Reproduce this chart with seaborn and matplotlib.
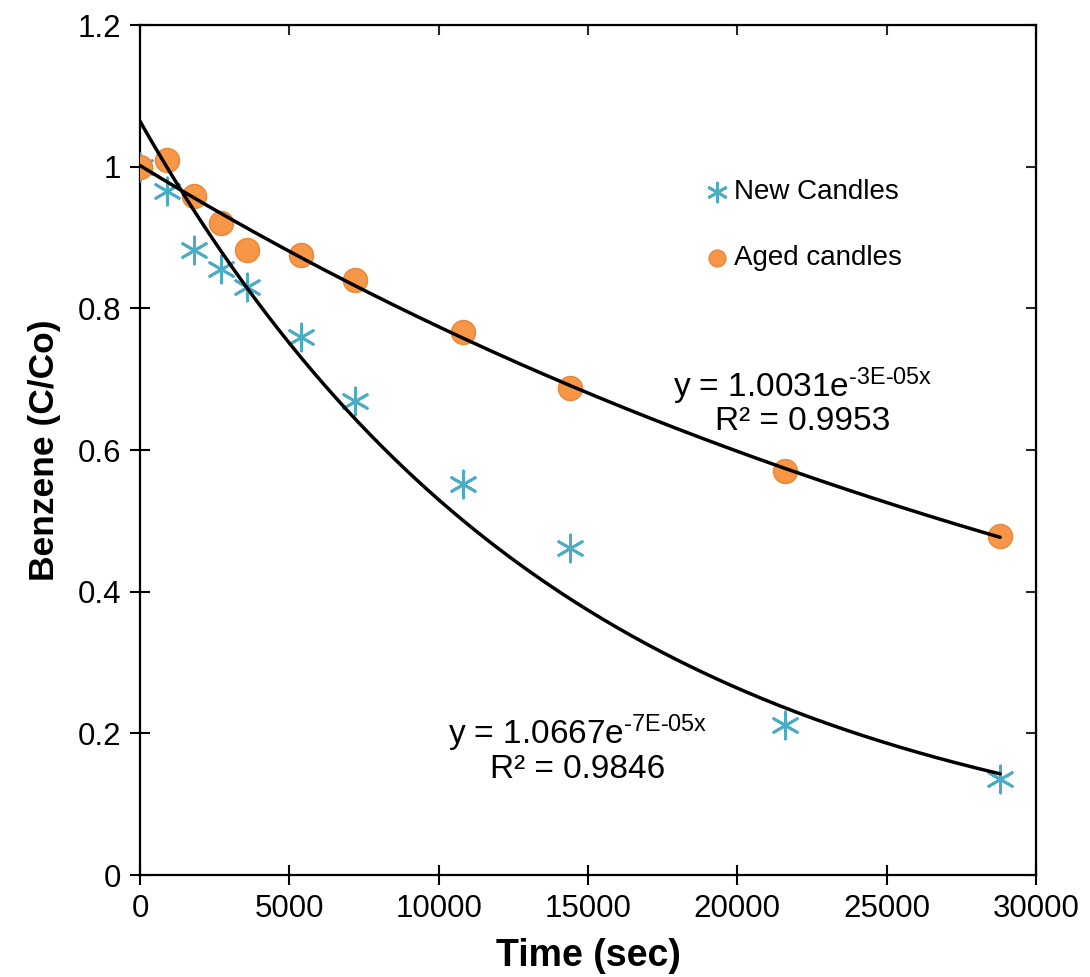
import numpy as np
import pandas as pd
import matplotlib
matplotlib.use("Agg")
import matplotlib.pyplot as plt
import seaborn as sns

# readings
time_sec = [0, 900, 1800, 2700, 3600, 5400, 7200, 10800, 14400, 21600, 28800]
new_candles = [1.0, 0.966, 0.882, 0.856, 0.830, 0.760, 0.669, 0.552, 0.461, 0.212, 0.136]
aged_candles = [1.0, 1.009, 0.959, 0.920, 0.882, 0.875, 0.840, 0.767, 0.688, 0.570, 0.479]
x_ticks = [0, 5000, 10000, 15000, 20000, 25000, 30000]
y_ticks = [0, 0.2, 0.4, 0.6, 0.8, 1.0, 1.2]
y_ticklabels = ["0", "0.2", "0.4", "0.6", "0.8", "1", "1.2"]

new_color = "#4BACC6"
aged_color = "#F79646"

sns.set_style("white")
plt.rcParams["font.family"] = ["Liberation Sans", "DejaVu Sans"]
plt.rcParams["text.color"] = "black"
plt.rcParams["axes.labelcolor"] = "black"
plt.rcParams["mathtext.fontset"] = "custom"
plt.rcParams["mathtext.rm"] = "Liberation Sans"
plt.rcParams["mathtext.default"] = "regular"

df = pd.DataFrame({"time": time_sec, "new": new_candles, "aged": aged_candles})

# exponential trendlines, fitted the way Excel does (log-linear)
t_fit = np.linspace(0, max(time_sec), 300)
b_new, a_new = np.polyfit(df["time"], np.log(df["new"]), 1)
b_aged, a_aged = np.polyfit(df["time"], np.log(df["aged"]), 1)
fit_new = pd.DataFrame({"time": t_fit, "y": np.exp(a_new) * np.exp(b_new * t_fit)})
fit_aged = pd.DataFrame({"time": t_fit, "y": np.exp(a_aged) * np.exp(b_aged * t_fit)})

fig = plt.figure(figsize=(10.9, 9.77), dpi=100)
ax = fig.add_axes([0.1284, 0.1044, 0.822, 0.870])

star = (6, 2, 0)
sns.scatterplot(data=df, x="time", y="new", marker=star, s=380, color=new_color,
                linewidth=2.0, ax=ax, label="New Candles", zorder=3)
sns.scatterplot(data=df, x="time", y="aged", marker="o", s=300, color=aged_color,
                edgecolor="#E8863A", linewidth=1, ax=ax, label="Aged candles", zorder=3)
sns.lineplot(data=fit_new, x="time", y="y", color="black", linewidth=2.5, ax=ax, zorder=4)
sns.lineplot(data=fit_aged, x="time", y="y", color="black", linewidth=2.5, ax=ax, zorder=4)

ax.set_xlim(0, 30000)
ax.set_ylim(0, 1.2)
ax.set_xticks(x_ticks)
ax.set_yticks(y_ticks)
ax.set_yticklabels(y_ticklabels)
ax.tick_params(axis="both", labelsize=22.5, colors="black", length=15, width=1.5,
               direction="inout", bottom=True, left=True, top=False, right=False)
ax.tick_params(axis="x", pad=6)
ax.tick_params(axis="y", pad=6)
for side in ["top", "right", "left", "bottom"]:
    ax.spines[side].set_visible(True)
    ax.spines[side].set_color("black")
    ax.spines[side].set_linewidth(1.6)

# inward ticks on the top and right edges
top = ax.secondary_xaxis("top")
top.set_xticks(x_ticks)
top.tick_params(direction="in", length=7.5, width=1.5, labeltop=False, top=True)
right = ax.secondary_yaxis("right")
right.set_yticks(y_ticks)
right.tick_params(direction="in", length=7.5, width=1.5, labelright=False, right=True)

ax.set_xlabel("Time (sec)", fontsize=27, fontweight="bold", labelpad=10)
ax.set_ylabel("Benzene (C/Co)", fontsize=25.5, fontweight="bold", labelpad=12)

ax.text(22200, 0.690, r"y = 1.0031e$^{\text{-3E-05x}}$", fontsize=24, ha="center", va="center")
ax.text(22200, 0.640, "R² = 0.9953", fontsize=24, ha="center", va="center")
ax.text(14650, 0.200, r"y = 1.0667e$^{\text{-7E-05x}}$", fontsize=24, ha="center", va="center")
ax.text(14650, 0.149, "R² = 0.9846", fontsize=24, ha="center", va="center")

leg = ax.legend(loc="upper left", bbox_to_anchor=(0.629, 0.819), frameon=False,
                fontsize=20, handletextpad=0.1, labelspacing=1.45, markerscale=0.7,
                handlelength=1.0, borderaxespad=0, borderpad=0)

fig.savefig("out.png", dpi=100)
